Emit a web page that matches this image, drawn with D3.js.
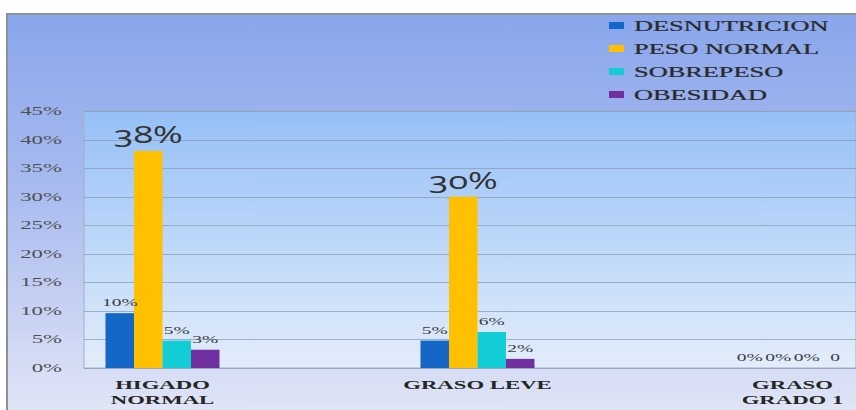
<!DOCTYPE html>
<html>
<head>
<meta charset="utf-8">
<script src="https://cdn.jsdelivr.net/npm/d3@7"></script>
<style>
  body { margin: 0; background: #ffffff; }
  svg { display: block; }
  .num { font-variant-numeric: oldstyle-nums; font-feature-settings: "onum" 1; }
</style>
</head>
<body>
<svg id="chart" width="856" height="410"></svg>
<script>
// Hígado por estado nutricional
const categories = ["HIGADO NORMAL", "GRASO LEVE", "GRASO GRADO 1"];
const categoryLines = [["HIGADO", "NORMAL"], ["GRASO LEVE"], ["GRASO", "GRADO 1"]];
const series = ["DESNUTRICION", "PESO NORMAL", "SOBREPESO", "OBESIDAD"];
const seriesColors = ["#1467c6", "#ffc000", "#12cdd6", "#7030a0"];

const desnutricion = [0.096, 0.048, 0];
const pesoNormal   = [0.38, 0.30, 0];
const sobrepeso    = [0.048, 0.063, 0];
const obesidad     = [0.032, 0.016, 0];

const desnutricionLabels = ["10%", "5%", "0%"];
const pesoNormalLabels   = ["38%", "30%", "0%"];
const sobrepesoLabels    = ["5%", "6%", "0%"];
const obesidadLabels     = ["3%", "2%", "0"];

const yTickFormat = d3.format(".0%");

const seriesValues = [desnutricion, pesoNormal, sobrepeso, obesidad];
const seriesLabels = [desnutricionLabels, pesoNormalLabels, sobrepesoLabels, obesidadLabels];

const W = 856, H = 410;
const plot = { left: 84, right: 856, top: 111, bottom: 368 };

const svg = d3.select("#chart");
const defs = svg.append("defs");

const outerGrad = defs.append("linearGradient").attr("id", "outerGrad")
  .attr("x1", 0).attr("y1", 0).attr("x2", 0).attr("y2", 1);
outerGrad.append("stop").attr("offset", "0%").attr("stop-color", "#89a6ec");
outerGrad.append("stop").attr("offset", "45%").attr("stop-color", "#a9bbef");
outerGrad.append("stop").attr("offset", "100%").attr("stop-color", "#e0e5f6");

const plotGrad = defs.append("linearGradient").attr("id", "plotGrad")
  .attr("x1", 0).attr("y1", 0).attr("x2", 0).attr("y2", 1);
plotGrad.append("stop").attr("offset", "0%").attr("stop-color", "#95c0f6");
plotGrad.append("stop").attr("offset", "100%").attr("stop-color", "#e3edfb");

// chart frame
svg.append("rect").attr("x", 6).attr("y", 13).attr("width", W - 6).attr("height", H - 13)
  .attr("fill", "url(#outerGrad)");
svg.append("path").attr("d", `M7,${H} V14 H${W}`)
  .attr("fill", "none").attr("stroke", "#8d9099").attr("stroke-width", 2);

// plot area
svg.append("rect").attr("x", plot.left).attr("y", plot.top)
  .attr("width", plot.right - plot.left).attr("height", plot.bottom - plot.top)
  .attr("fill", "url(#plotGrad)").attr("stroke", "#9fb0c4").attr("stroke-width", 1);

const y = d3.scaleLinear().domain([0, 0.45]).range([plot.bottom, plot.top]);
const x0 = d3.scaleBand().domain(categories).range([5, 950]);
const groupWidth = 114;
const x1 = d3.scaleBand().domain(series)
  .range([x0.bandwidth() / 2 - groupWidth / 2, x0.bandwidth() / 2 + groupWidth / 2]);

// gridlines
const yTicks = y.ticks(9);
svg.append("g").selectAll("line").data(yTicks).join("line")
  .attr("x1", plot.left).attr("x2", plot.right)
  .attr("y1", d => Math.round(y(d)) + 0.5).attr("y2", d => Math.round(y(d)) + 0.5)
  .attr("stroke", "#8b9db3").attr("stroke-width", 1).attr("opacity", 0.75);

// stretched text helper
function stretchedText(sel, sx) {
  return sel.attr("transform", d => `translate(${d.x},${d.y}) scale(${sx},1)`);
}

// y axis labels
stretchedText(
  svg.append("g").selectAll("text").data(yTicks.map(t => ({ t, x: 62, y: y(t) + 4 }))).join("text")
    .attr("class", "num")
    .attr("text-anchor", "end")
    .attr("font-family", "Liberation Serif, serif")
    .attr("font-size", 12)
    .attr("fill", "#505050")
    .text(d => yTickFormat(d.t)), 1.9);

// bars
const barData = [];
series.forEach((s, si) => {
  categories.forEach((c, ci) => {
    barData.push({ s, si, c, ci, v: seriesValues[si][ci], label: seriesLabels[si][ci] });
  });
});

svg.append("g").selectAll("rect").data(barData).join("rect")
  .attr("x", d => x0(d.c) + x1(d.s))
  .attr("width", x1.bandwidth())
  .attr("y", d => y(d.v))
  .attr("height", d => y(0) - y(d.v))
  .attr("fill", d => seriesColors[d.si]);

// data labels
const bigLabels = barData.filter(d => d.si === 1 && d.v > 0);
const smallLabels = barData.filter(d => !(d.si === 1 && d.v > 0));

stretchedText(
  svg.append("g").selectAll("text")
    .data(bigLabels.map(d => ({ ...d, x: x0(d.c) + x1(d.s) + x1.bandwidth() / 2, y: y(d.v) - 8 })))
    .join("text")
    .attr("class", "num")
    .attr("text-anchor", "middle")
    .attr("font-family", "Open Sans, sans-serif")
    .attr("font-size", 24)
    .attr("fill", "#333")
    .text(d => d.label), 1.5);

stretchedText(
  svg.append("g").selectAll("text")
    .data(smallLabels.map(d => ({ ...d, x: x0(d.c) + x1(d.s) + x1.bandwidth() / 2, y: y(d.v) - 7 })))
    .join("text")
    .attr("class", "num")
    .attr("text-anchor", "middle")
    .attr("font-family", "Liberation Serif, serif")
    .attr("font-size", 10)
    .attr("fill", "#3a3a3a")
    .text(d => d.label), 1.95);

// category labels
const catText = [];
categories.forEach((c, ci) => {
  categoryLines[ci].forEach((line, li) => {
    catText.push({ line, x: x0(c) + x0.bandwidth() / 2, y: 389 + li * 15 });
  });
});
stretchedText(
  svg.append("g").selectAll("text").data(catText).join("text")
    .attr("text-anchor", "middle")
    .attr("font-family", "Liberation Serif, serif")
    .attr("font-weight", "bold")
    .attr("font-size", 13)
    .attr("fill", "#262626")
    .text(d => d.line), 1.75);

// legend
const legend = svg.append("g");
series.forEach((s, si) => {
  const ly = 25.5 + si * 23;
  legend.append("rect").attr("x", 609).attr("y", ly - 3.5).attr("width", 15).attr("height", 7)
    .attr("fill", seriesColors[si]);
});
stretchedText(
  legend.selectAll("text").data(series.map((s, si) => ({ s, x: 634, y: 25.5 + si * 23 + 5 }))).join("text")
    .attr("font-family", "Liberation Serif, serif")
    .attr("font-size", 14)
    .attr("fill", "#2a2a2a")
    .attr("stroke", "#2a2a2a").attr("stroke-width", 0.25)
    .text(d => d.s), 1.88);
</script>
</body>
</html>
